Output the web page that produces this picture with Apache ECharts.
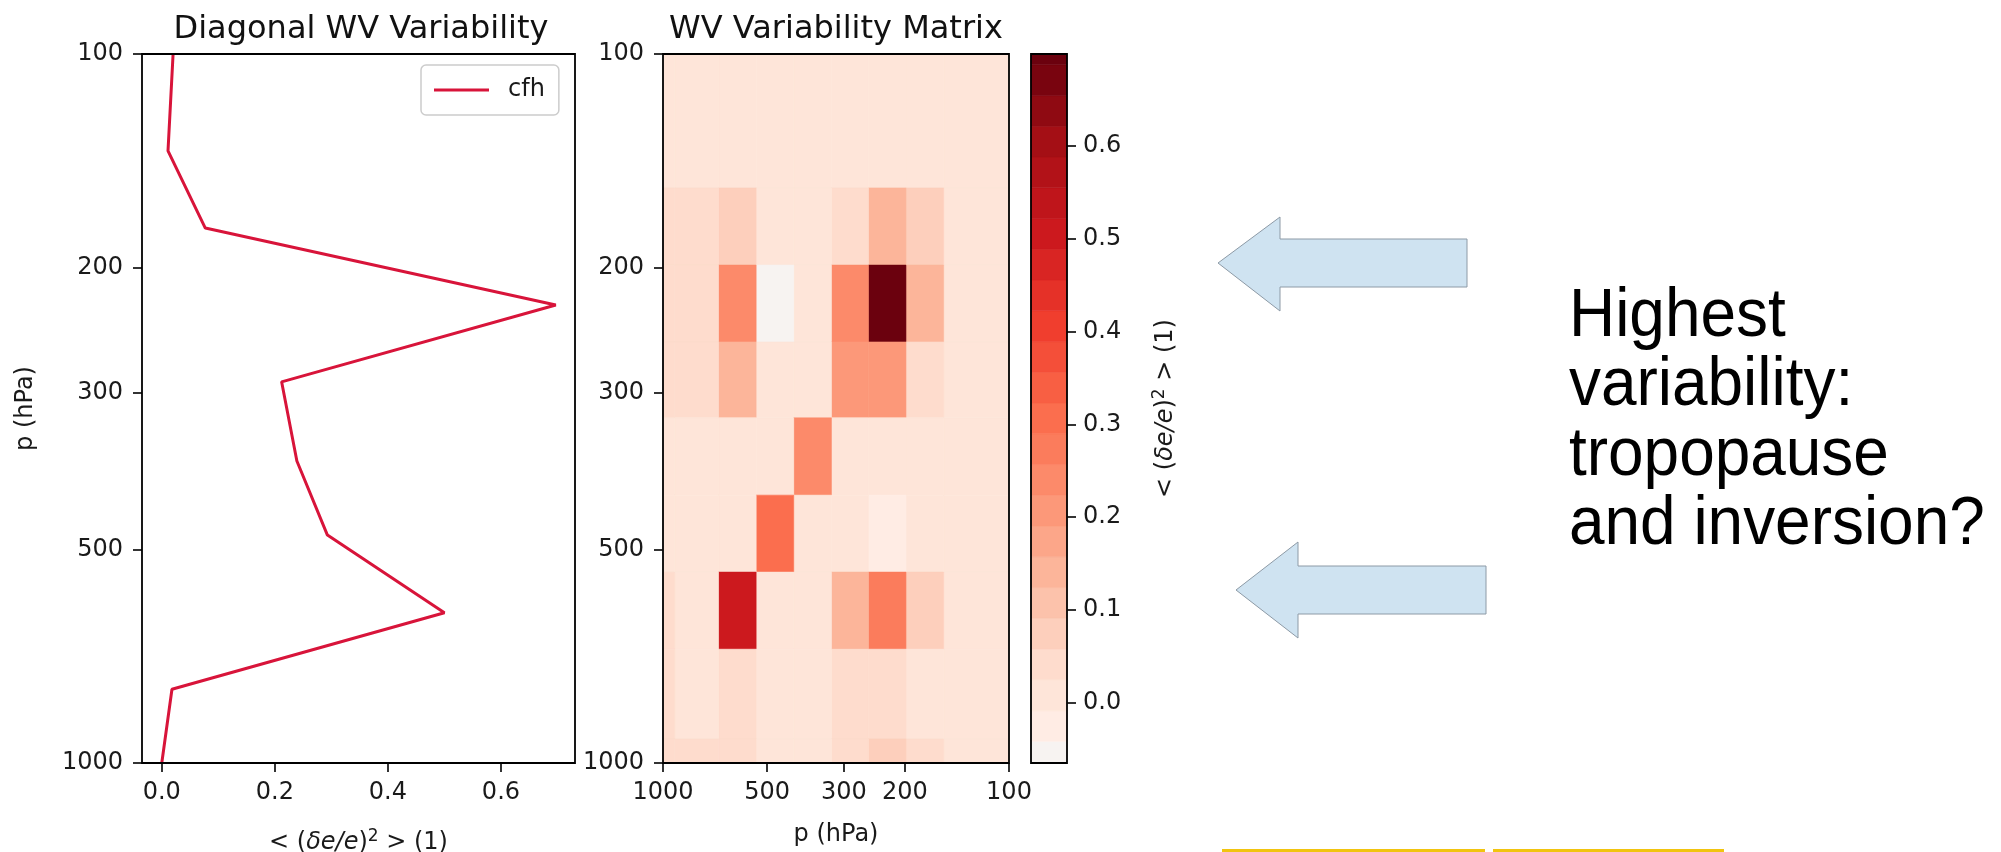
<!DOCTYPE html>
<html>
<head>
<meta charset="utf-8">
<title>WV Variability</title>
<script src="https://cdn.jsdelivr.net/npm/echarts@6/dist/echarts.min.js"></script>
<style>
html, body { margin: 0; padding: 0; background: #fff; }
#main { width: 2001px; height: 852px; }
</style>
</head>
<body>
<div id="main"></div>
<script>
// diagonal profile: pressure levels (hPa) and values
var lineLevels = [100, 137, 176, 226, 290, 375, 477, 614, 787, 1000];
var lineValues = [0.020, 0.011, 0.077, 0.697, 0.212, 0.239, 0.293, 0.500, 0.018, 0.0];

// matrix cell edges (hPa), same for both axes, top/right cell first
var cellEdges = [100, 154.5, 198.5, 254.8, 326, 419, 538, 691, 925, 1000];

// matrix rows: row i = pressure cell i on y, entry j = cell j on x
var row0 = [0.011, 0.0, 0.0, 0.0, 0.0, 0.0, 0.0, 0.0, 0.0];
var row1 = [0.0, 0.077, 0.13, 0.045, 0.0, 0.0, 0.06, 0.03, 0.035];
var row2 = [0.0, 0.13, 0.697, 0.23, 0.0, -0.05, 0.24, 0.04, 0.04];
var row3 = [0.0, 0.04, 0.20, 0.212, 0.0, 0.0, 0.13, 0.03, 0.035];
var row4 = [0.0, 0.0, 0.0, 0.0, 0.25, 0.0, 0.0, 0.0, 0.0];
var row5 = [0.0, 0.0, -0.025, 0.0, 0.0, 0.293, 0.0, 0.0, 0.0];
var row6 = [0.0, 0.07, 0.26, 0.14, 0.0, 0.0, 0.50, 0.02, 0.035];
var row7 = [0.0, 0.0, 0.04, 0.03, 0.0, 0.0, 0.035, 0.018, 0.035];
var row8 = [0.0, 0.03, 0.06, 0.03, 0.0, 0.0, 0.04, 0.03, 0.04];
var matrixRows = [row0, row1, row2, row3, row4, row5, row6, row7, row8];

// tick labels
var pressureTicks = [100, 200, 300, 500, 1000];
var valueTicks = [0, 0.2, 0.4, 0.6];
var cbarTicks = [0, 0.1, 0.2, 0.3, 0.4, 0.5, 0.6];

// colorbar bands (Reds, discrete)
var cbarEdges = [-0.0646, -0.0413, -0.0082, 0.0250, 0.0581, 0.0912, 0.1243, 0.1574, 0.1905,
    0.2236, 0.2567, 0.2898, 0.3229, 0.3560, 0.3891, 0.4222, 0.4553, 0.4884, 0.5215,
    0.5546, 0.5877, 0.6208, 0.6539, 0.6870, 0.6987];
var cbarColors = ['#f7f3f1', '#ffece4', '#fee5d9', '#fedccd', '#fdcfbc', '#fcc2ab', '#fcb59a',
    '#fca689', '#fc9879', '#fc8a6a', '#fb7c5c', '#fb6e4e', '#f85f43', '#f44f39', '#f03e2e',
    '#e53128', '#d92523', '#cc191e', '#bf151b', '#b21218', '#a40f15', '#8f0a12', '#79040f', '#6b010e'];

var FONT = 'DejaVu Sans';
var TXT = '#1a1a1a';

var lineData = [];
for (var i = 0; i < lineLevels.length; i++) {
    lineData.push([lineValues[i], lineLevels[i]]);
}

// [xLo, xHi, yLo, yHi, value]
var cellData = [];
for (var i = 0; i < matrixRows.length; i++) {
    for (var j = 0; j < matrixRows[i].length; j++) {
        cellData.push([cellEdges[j], cellEdges[j + 1], cellEdges[i], cellEdges[i + 1], matrixRows[i][j]]);
    }
}

var bandData = [];
var pieces = [];
for (var k = 0; k < cbarColors.length; k++) {
    bandData.push([0, 1, cbarEdges[k], cbarEdges[k + 1], (cbarEdges[k] + cbarEdges[k + 1]) / 2]);
    var pc = {gte: cbarEdges[k], color: cbarColors[k]};
    if (k == cbarColors.length - 1) pc.lte = cbarEdges[k + 1]; else pc.lt = cbarEdges[k + 1];
    pieces.push(pc);
}

function renderRect(params, api) {
    var a = api.coord([api.value(0), api.value(2)]);
    var b = api.coord([api.value(1), api.value(3)]);
    var c = api.visual('color');
    return {
        type: 'rect',
        shape: {
            x: Math.min(a[0], b[0]),
            y: Math.min(a[1], b[1]),
            width: Math.abs(b[0] - a[0]),
            height: Math.abs(b[1] - a[1])
        },
        style: {fill: c, stroke: c, lineWidth: 0.6}
    };
}

var labelStyle = {fontSize: 24, fontFamily: FONT, color: TXT};
var tickStyle = {show: true, inside: false, length: 9, lineStyle: {color: '#000', width: 1.6}};
var noLine = {show: false, onZero: false};
var mathRich = {
    n: {fontSize: 24, fontFamily: FONT, color: TXT, lineHeight: 30},
    i: {fontSize: 24, fontFamily: FONT, fontStyle: 'italic', color: TXT, lineHeight: 30},
    s: {fontSize: 17, fontFamily: FONT, color: TXT, lineHeight: 18, verticalAlign: 'top'}
};
var mathName = '{n|< (}{i|δe/e}{n|)}{s|2}{n| > (1)}';

function fmt1(v) { return (+v).toFixed(1); }
function fmtP(v) { return String(Math.round(v)); }

var frame = {show: true, z: 10, borderColor: '#000', borderWidth: 1.8, backgroundColor: 'transparent',
    outerBoundsMode: 'none'};

var chart = echarts.init(document.getElementById('main'));

var option = {
    animation: false,
    backgroundColor: '#fff',
    title: [
        {text: 'Diagonal WV Variability', left: 356, top: 9, textAlign: 'center',
            textStyle: {fontSize: 32, fontWeight: 'normal', fontFamily: FONT, color: '#111'}},
        {text: 'WV Variability Matrix', left: 831, top: 9, textAlign: 'center',
            textStyle: {fontSize: 32, fontWeight: 'normal', fontFamily: FONT, color: '#111'}}
    ],
    legend: {
        data: [{name: 'cfh', icon: 'rect'}],
        left: 421, top: 65,
        itemWidth: 55, itemHeight: 3,
        padding: [13, 14, 13, 13],
        borderColor: '#cccccc', borderWidth: 1.5, borderRadius: 5,
        backgroundColor: 'rgba(255,255,255,0.8)',
        textStyle: {fontSize: 24, fontFamily: FONT, color: TXT, padding: [0, 0, 0, 14]}
    },
    grid: [
        Object.assign({left: 142, top: 54, width: 433, height: 709}, frame),
        Object.assign({left: 663, top: 54, width: 346, height: 709}, frame),
        Object.assign({left: 1031, top: 54, width: 36, height: 709}, frame)
    ],
    visualMap: {
        type: 'piecewise',
        show: false,
        dimension: 4,
        seriesIndex: [1, 2],
        pieces: pieces
    },
    xAxis: [
        {
            gridIndex: 0, type: 'value', min: -0.035, max: 0.731,
            axisLine: noLine, splitLine: {show: false},
            axisTick: Object.assign({customValues: valueTicks}, tickStyle),
            axisLabel: Object.assign({customValues: valueTicks, formatter: fmt1, margin: 18}, labelStyle),
            name: mathName, nameLocation: 'middle', nameGap: 65,
            nameTextStyle: {rich: mathRich}
        },
        {
            gridIndex: 1, type: 'log', logBase: 10, min: 100, max: 1000, inverse: true,
            axisLine: noLine, splitLine: {show: false},
            axisTick: Object.assign({customValues: pressureTicks}, tickStyle),
            axisLabel: Object.assign({customValues: pressureTicks, formatter: fmtP, margin: 18}, labelStyle),
            name: 'p (hPa)', nameLocation: 'middle', nameGap: 60,
            nameTextStyle: {fontSize: 24, fontFamily: FONT, color: TXT}
        },
        {
            gridIndex: 2, type: 'value', min: 0, max: 1,
            axisLine: noLine, axisTick: {show: false}, axisLabel: {show: false}, splitLine: {show: false}
        }
    ],
    yAxis: [
        {
            gridIndex: 0, type: 'log', logBase: 10, min: 100, max: 1000, inverse: true,
            axisLine: noLine, splitLine: {show: false},
            axisTick: Object.assign({customValues: pressureTicks}, tickStyle),
            axisLabel: Object.assign({customValues: pressureTicks, formatter: fmtP, margin: 19}, labelStyle),
            name: 'p (hPa)', nameLocation: 'middle', nameGap: 104,
            nameTextStyle: {fontSize: 24, fontFamily: FONT, color: TXT}
        },
        {
            gridIndex: 1, type: 'log', logBase: 10, min: 100, max: 1000, inverse: true,
            axisLine: noLine, splitLine: {show: false},
            axisTick: Object.assign({customValues: pressureTicks}, tickStyle),
            axisLabel: Object.assign({customValues: pressureTicks, formatter: fmtP, margin: 19}, labelStyle)
        },
        {
            gridIndex: 2, type: 'value', position: 'right',
            min: cbarEdges[0], max: cbarEdges[cbarEdges.length - 1],
            axisLine: noLine, splitLine: {show: false},
            axisTick: Object.assign({customValues: cbarTicks}, tickStyle),
            axisLabel: Object.assign({customValues: cbarTicks, formatter: fmt1, margin: 16}, labelStyle),
            name: mathName, nameLocation: 'middle', nameGap: 84, nameRotate: 90,
            nameTextStyle: {rich: mathRich}
        }
    ],
    series: [
        {
            name: 'cfh', type: 'line', xAxisIndex: 0, yAxisIndex: 0,
            data: lineData, symbol: 'none',
            lineStyle: {color: '#d8143a', width: 3},
            itemStyle: {color: '#d8143a'}
        },
        {
            name: 'matrix', type: 'custom', xAxisIndex: 1, yAxisIndex: 1,
            renderItem: renderRect, data: cellData,
            encode: {x: [0, 1], y: [2, 3]}
        },
        {
            name: 'colorbar', type: 'custom', xAxisIndex: 2, yAxisIndex: 2,
            renderItem: renderRect, data: bandData,
            encode: {x: [0, 1], y: [2, 3]}
        }
    ],
    graphic: [
        // slide annotations
        {type: 'polygon', shape: {points: [[1218, 263], [1280, 217], [1280, 239], [1467, 239], [1467, 287], [1280, 287], [1280, 311]]},
            style: {fill: '#cfe3f1', stroke: '#8d9aa6', lineWidth: 1}},
        {type: 'polygon', shape: {points: [[1236, 590], [1298, 542], [1298, 566], [1486, 566], [1486, 614], [1298, 614], [1298, 638]]},
            style: {fill: '#cfe3f1', stroke: '#8d9aa6', lineWidth: 1}},
        {type: 'text', x: 1569, y: 282, scaleX: 0.94,
            style: {text: 'Highest\nvariability:\ntropopause\nand inversion?', fontSize: 68,
                fontFamily: 'Liberation Sans', fill: '#000', lineHeight: 69.5}},
        {type: 'rect', shape: {x: 1222, y: 849, width: 263, height: 3}, style: {fill: '#f1c40f'}},
        {type: 'rect', shape: {x: 1493, y: 849, width: 231, height: 3}, style: {fill: '#f1c40f'}}
    ]
};

chart.setOption(option);
</script>
</body>
</html>
